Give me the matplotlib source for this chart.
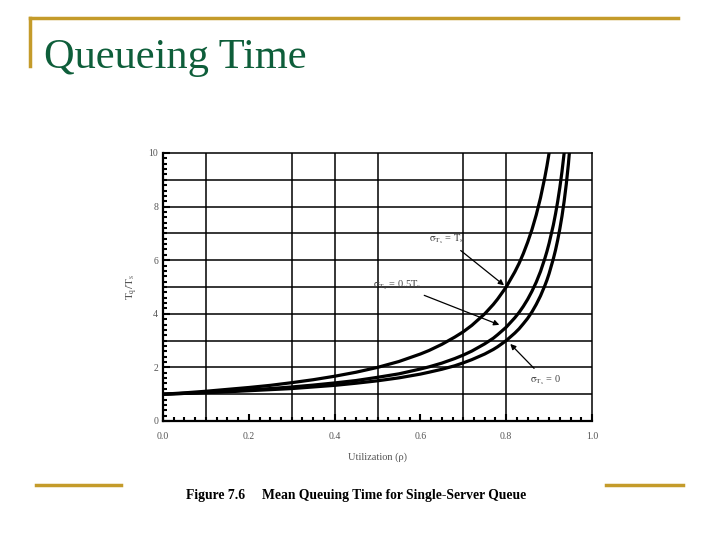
import matplotlib.pyplot as plt
from matplotlib.ticker import MultipleLocator
from matplotlib.lines import Line2D

plt.rcParams['mathtext.fontset'] = 'stix'

# Datos
rho_1 = [0.0, 0.05, 0.1, 0.15, 0.2, 0.25, 0.3, 0.35, 0.4, 0.45, 0.5, 0.55, 0.6, 0.62, 0.65, 0.68,
         0.7, 0.72, 0.75, 0.77, 0.78, 0.8, 0.82, 0.83, 0.84, 0.85, 0.86, 0.87, 0.88, 0.89, 0.895, 0.9]
tq_1 = [1.0, 1.05, 1.11, 1.18, 1.25, 1.33, 1.43, 1.54, 1.67, 1.82, 2.0, 2.22, 2.5, 2.63, 2.86, 3.13,
        3.33, 3.57, 4.0, 4.35, 4.55, 5.0, 5.56, 5.88, 6.25, 6.67, 7.14, 7.69, 8.33, 9.09, 9.52, 10.0]

rho_2 = [0.0, 0.05, 0.1, 0.15, 0.2, 0.25, 0.3, 0.35, 0.4, 0.45, 0.5, 0.55, 0.6, 0.62, 0.65, 0.68,
         0.7, 0.72, 0.75, 0.77, 0.78, 0.8, 0.82, 0.83, 0.84, 0.85, 0.86, 0.87, 0.88, 0.89, 0.895,
         0.9, 0.91, 0.915, 0.92, 0.925, 0.93, 0.935]
tq_2 = [1.0, 1.03, 1.07, 1.11, 1.16, 1.21, 1.27, 1.34, 1.42, 1.51, 1.63, 1.76, 1.94, 2.02, 2.16, 2.33,
        2.46, 2.61, 2.88, 3.09, 3.22, 3.5, 3.85, 4.05, 4.28, 4.54, 4.84, 5.18, 5.58, 6.06, 6.33,
        6.63, 7.32, 7.73, 8.19, 8.71, 9.3, 9.99]

rho_3 = [0.0, 0.05, 0.1, 0.15, 0.2, 0.25, 0.3, 0.35, 0.4, 0.45, 0.5, 0.55, 0.6, 0.62, 0.65, 0.68,
         0.7, 0.72, 0.75, 0.77, 0.78, 0.8, 0.82, 0.83, 0.84, 0.85, 0.86, 0.87, 0.88, 0.89, 0.895,
         0.9, 0.91, 0.915, 0.92, 0.925, 0.93, 0.935, 0.94, 0.945, 0.947]
tq_3 = [1.0, 1.03, 1.06, 1.09, 1.13, 1.17, 1.21, 1.27, 1.33, 1.41, 1.5, 1.61, 1.75, 1.82, 1.93, 2.06,
        2.17, 2.29, 2.5, 2.67, 2.77, 3.0, 3.28, 3.44, 3.63, 3.83, 4.07, 4.35, 4.67, 5.05, 5.26,
        5.5, 6.06, 6.38, 6.75, 7.17, 7.64, 8.19, 8.83, 9.59, 9.96]

grid_x = [0.1, 0.3, 0.4, 0.5, 0.7, 0.8]
grid_y = [1, 2, 3, 4, 5, 6, 7, 8, 9]

oro = '#C49B2A'
verde = '#0E5E3A'

fig = plt.figure(figsize=(7.2, 5.4), dpi=100)

# Lineas decorativas de la diapositiva
fig.add_artist(Line2D([30/720, 678/720], [1-18/540, 1-18/540], color=oro, lw=2.5))
fig.add_artist(Line2D([30/720, 30/720], [1-18/540, 1-66/540], color=oro, lw=2.5))
fig.add_artist(Line2D([36/720, 121/720], [1-485/540, 1-485/540], color=oro, lw=2.5))
fig.add_artist(Line2D([606/720, 683/720], [1-485/540, 1-485/540], color=oro, lw=2.5))

fig.text(44/720, 1-68/540, 'Queueing Time', family='Liberation Serif', fontsize=30.5, color=verde)
fig.text(356/720, 1-495/540, 'Figure 7.6     Mean Queuing Time for Single-Server Queue',
         family='Liberation Serif', fontsize=9.8, fontweight='bold', ha='center', va='center')

ax = fig.add_axes([163/720, 1-421/540, 429/720, 268/540])
for r, t in [(rho_1, tq_1), (rho_2, tq_2), (rho_3, tq_3)]:
    ax.plot(r, t, color='black', lw=2.3, solid_joinstyle='round')

for gx in grid_x:
    ax.axvline(gx, color='black', lw=1.1, zorder=0)
for gy in grid_y:
    ax.axhline(gy, color='black', lw=1.1, zorder=0)

ax.set_xlim(0, 1.0)
ax.set_ylim(0, 10)
ax.xaxis.set_major_locator(MultipleLocator(0.2))
ax.xaxis.set_minor_locator(MultipleLocator(0.025))
ax.yaxis.set_major_locator(MultipleLocator(2))
ax.yaxis.set_minor_locator(MultipleLocator(0.2))
ax.xaxis.set_major_formatter(plt.FormatStrFormatter('%.1f'))
ax.tick_params(which='both', direction='in', top=False, right=False, width=1.5,
               labelsize=7, labelcolor='#555555')
ax.tick_params(axis='x', which='major', pad=8)
ax.tick_params(which='major', length=5)
ax.tick_params(which='minor', length=3)
for s in ax.spines.values():
    s.set_linewidth(1.1)
ax.spines['left'].set_linewidth(1.6)
ax.spines['bottom'].set_linewidth(1.6)
for lbl in ax.get_xticklabels() + ax.get_yticklabels():
    lbl.set_family('Liberation Serif')

ax.set_xlabel('Utilization (\u03c1)', family='Liberation Serif', fontsize=7.5, color='#555555', labelpad=8)
ax.set_ylabel('$\\mathrm{T_q/T_s}$', fontsize=8, color='#555555', labelpad=6)

flecha = dict(arrowstyle='-|>', color='black', lw=0.9, mutation_scale=8)
ax.annotate('$\\mathrm{\\sigma_{T_s}}$ = $\\mathrm{T_s}$', xy=(0.8, 5.0), xytext=(0.62, 6.7),
            fontsize=7.5, family='Liberation Serif', color='#444444', arrowprops=flecha)
ax.annotate('$\\mathrm{\\sigma_{T_s}}$ = 0.5$\\mathrm{T_s}$', xy=(0.79, 3.55), xytext=(0.49, 5.0),
            fontsize=7.5, family='Liberation Serif', color='#444444', arrowprops=flecha)
ax.annotate('$\\mathrm{\\sigma_{T_s}}$ = 0', xy=(0.805, 2.95), xytext=(0.855, 1.45),
            fontsize=7.5, family='Liberation Serif', color='#444444', arrowprops=flecha)

fig.savefig('out.png', dpi=100)
